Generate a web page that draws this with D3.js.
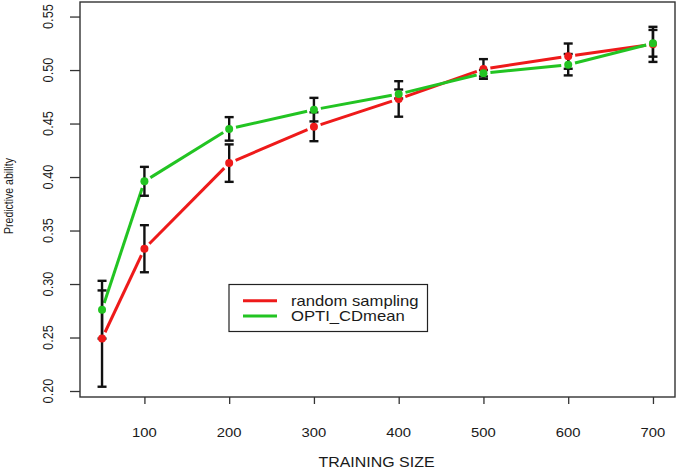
<!DOCTYPE html>
<html><head><meta charset="utf-8">
<script src="https://cdn.jsdelivr.net/npm/d3@7"></script>
<style>body{margin:0;background:#fff}svg{display:block}text{font-family:"Liberation Sans",Arial,sans-serif;fill:#1a1a1a}</style>
</head><body><svg id="c" width="678" height="469"></svg>
<script>
const trainingSize = [50, 100, 200, 300, 400, 500, 600, 700];
const randomSampling = [0.249, 0.333, 0.413, 0.447, 0.473, 0.501, 0.513, 0.524];
const randomErr = [0.045, 0.022, 0.0175, 0.0135, 0.0166, 0.0092, 0.0118, 0.0164];
const optiCDmean = [0.276, 0.396, 0.445, 0.463, 0.4776, 0.497, 0.505, 0.525];
const optiErr = [0.027, 0.0135, 0.011, 0.011, 0.0042, 0.003, 0.0100, 0.0125];
const xTicks = [100, 200, 300, 400, 500, 600, 700];
const yTicks = [0.20, 0.25, 0.30, 0.35, 0.40, 0.45, 0.50, 0.55];
const seriesNames = ["random sampling", "OPTI_CDmean"];
const seriesColors = ["#ee1a1a", "#22c422"];

const svg = d3.select("#c");
const L = 80, R = 675, T = 2, B = 397;
const sx = 1.14; // horizontal stretch of the original image
const x = d3.scaleLinear().domain([24, 726]).range([L, R]);
const y = d3.scaleLinear().domain([0.1944, 0.5636]).range([B, T]);

// box
svg.append("rect").attr("x", L).attr("y", T).attr("width", R - L).attr("height", B - T)
  .attr("fill", "none").attr("stroke", "#333").attr("stroke-width", 1.4);

// x axis
const xa = svg.append("g").attr("transform", `translate(0,${B})`)
  .call(d3.axisBottom(x).tickValues(xTicks).tickSize(7).tickSizeOuter(0).tickFormat(d3.format("d")));
xa.select(".domain").remove();
xa.selectAll(".tick line").attr("stroke", "#333").attr("stroke-width", 1.3);
xa.selectAll(".tick text").remove();
svg.selectAll(".xl").data(xTicks).join("text").attr("class", "xl")
  .attr("transform", d => `translate(${x(d)},437) scale(${sx},1)`)
  .attr("text-anchor", "middle").attr("font-size", 13).text(d => d);
svg.append("text").attr("transform", `translate(${(L + R) / 2 - 1},467) scale(${sx},1)`)
  .attr("text-anchor", "middle").attr("font-size", 14).text("TRAINING SIZE");

// y axis
const ya = svg.append("g").attr("transform", `translate(${L},0)`)
  .call(d3.axisLeft(y).tickValues(yTicks).tickSize(10).tickSizeOuter(0));
ya.select(".domain").remove();
ya.selectAll(".tick line").attr("stroke", "#333").attr("stroke-width", 1.3);
ya.selectAll(".tick text").remove();
svg.selectAll(".yl").data(yTicks).join("text").attr("class", "yl")
  .attr("transform", d => `translate(53,${y(d)}) scale(${sx},1) rotate(-90)`)
  .attr("text-anchor", "middle").attr("font-size", 12.8).text(d => d3.format(".2f")(d));
svg.append("text").attr("transform", `translate(12.5,196) scale(${sx},1) rotate(-90)`)
  .attr("text-anchor", "middle").attr("font-size", 10.5).text("Predictive ability");

const series = [
  { name: seriesNames[0], vals: randomSampling, err: randomErr, color: seriesColors[0] },
  { name: seriesNames[1], vals: optiCDmean, err: optiErr, color: seriesColors[1] }
];

// lines with gaps (type "b")
const gap = 7;
series.forEach(s => {
  const pts = trainingSize.map((t, i) => [x(t), y(s.vals[i])]);
  for (let i = 0; i < pts.length - 1; i++) {
    const [x0, y0] = pts[i], [x1, y1] = pts[i + 1];
    const len = Math.hypot(x1 - x0, y1 - y0);
    if (len <= 2 * gap) continue;
    const ux = (x1 - x0) / len, uy = (y1 - y0) / len;
    svg.append("line")
      .attr("x1", x0 + ux * gap).attr("y1", y0 + uy * gap)
      .attr("x2", x1 - ux * gap).attr("y2", y1 - uy * gap)
      .attr("stroke", s.color).attr("stroke-width", 3);
  }
});

// error bars
series.forEach(s => {
  const g = svg.append("g").attr("stroke", "#111").attr("stroke-width", 2.4);
  trainingSize.forEach((t, i) => {
    const cx = x(t), lo = y(s.vals[i] - s.err[i]), hi = y(s.vals[i] + s.err[i]);
    g.append("line").attr("x1", cx).attr("x2", cx).attr("y1", lo).attr("y2", hi);
    g.append("line").attr("x1", cx - 4.5).attr("x2", cx + 4.5).attr("y1", lo).attr("y2", lo);
    g.append("line").attr("x1", cx - 4.5).attr("x2", cx + 4.5).attr("y1", hi).attr("y2", hi);
  });
});

// points
series.forEach(s => {
  svg.append("g").selectAll("circle").data(trainingSize).join("circle")
    .attr("cx", d => x(d)).attr("cy", (d, i) => y(s.vals[i])).attr("r", 4)
    .attr("fill", s.color);
});

// legend
svg.append("rect").attr("x", 229).attr("y", 284.5).attr("width", 198.5).attr("height", 47)
  .attr("fill", "#fff").attr("stroke", "#222").attr("stroke-width", 1.2);
series.forEach((s, i) => {
  const ly = 300.7 + i * 15.3;
  svg.append("line").attr("x1", 243).attr("x2", 277).attr("y1", ly).attr("y2", ly)
    .attr("stroke", s.color).attr("stroke-width", 3);
  svg.append("text").attr("transform", `translate(291,${ly + 5}) scale(${sx},1)`)
    .attr("font-size", 14.6).text(s.name);
});
</script></body></html>
